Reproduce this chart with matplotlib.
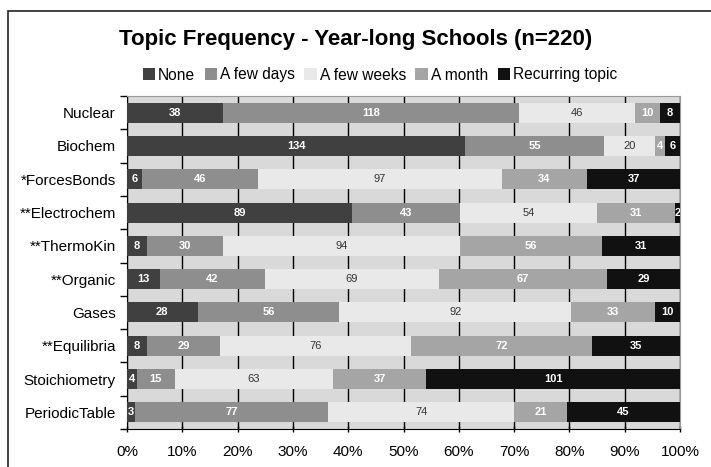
import matplotlib.pyplot as plt
from matplotlib.patches import Rectangle
import numpy as np

plt.rcParams['font.family'] = ['Liberation Sans', 'DejaVu Sans']

# Topics, listed top to bottom as they appear on the chart
topics = ['Nuclear', 'Biochem', '*ForcesBonds', '**Electrochem', '**ThermoKin',
          '**Organic', 'Gases', '**Equilibria', 'Stoichiometry', 'PeriodicTable']

# Number of schools per answer, one list per answer category
none = [38, 134, 6, 89, 8, 13, 28, 8, 4, 3]
few_days = [118, 55, 46, 43, 30, 42, 56, 29, 15, 77]
few_weeks = [46, 20, 97, 54, 94, 69, 92, 76, 63, 74]
a_month = [10, 4, 34, 31, 56, 67, 33, 72, 37, 21]
recurring = [8, 6, 37, 2, 31, 29, 10, 35, 101, 45]

series_names = ['None', 'A few days', 'A few weeks', 'A month', 'Recurring topic']
series = [none, few_days, few_weeks, a_month, recurring]
colors = ['#404040', '#8e8e8e', '#e9e9e9', '#a5a5a5', '#111111']
text_colors = ['white', 'white', '#333333', 'white', 'white']

counts = np.array(series, dtype=float)
totals = counts.sum(axis=0)
shares = counts / totals

fig = plt.figure(figsize=(7.11, 4.67), dpi=100)
ax = fig.add_axes([127 / 711, 1 - 429 / 467, 553 / 711, 333 / 467])
ax.set_facecolor('#d9d9d9')

# outer frame round the chart
fig.patches.append(Rectangle((8 / 711, -0.05), 1.0, 1 - 11 / 467 + 0.05,
                             transform=fig.transFigure, fill=False,
                             edgecolor='#222222', linewidth=1.2))

y = np.arange(len(topics))
left = np.zeros(len(topics))
for name, vals, share, col, tcol in zip(series_names, series, shares, colors, text_colors):
    ax.barh(y, share, left=left, height=0.6, color=col, label=name, zorder=3)
    for i, (v, s) in enumerate(zip(vals, share)):
        weight = 'normal' if tcol != 'white' else 'bold'
        ax.text(left[i] + s / 2, y[i], str(v), ha='center', va='center',
                fontsize=8, color=tcol, fontweight=weight, zorder=4, clip_on=True)
    left += share

ax.set_xlim(0, 1)
ax.set_ylim(len(topics) - 0.5, -0.5)
ax.set_xticks(np.arange(0, 1.01, 0.1))
ax.set_xticklabels([f'{int(round(t * 100))}%' for t in np.arange(0, 1.01, 0.1)], fontsize=11)
ax.xaxis.grid(True, color='black', linewidth=1.0, zorder=1)
ax.set_axisbelow(True)

ax.set_yticks(y)
ax.set_yticklabels(topics, fontsize=11)
ax.tick_params(axis='y', length=0, pad=8)
ax.set_yticks(np.arange(-0.5, len(topics)), minor=True)
ax.tick_params(axis='y', which='minor', length=5, width=1, direction='out')
ax.tick_params(axis='x', length=5, width=1, direction='inout', pad=9)

for side in ['top', 'right']:
    ax.spines[side].set_color('#999999')
ax.spines['left'].set_color('black')
ax.spines['bottom'].set_color('black')

fig.text(0.5, 1 - 40 / 467, 'Topic Frequency - Year-long Schools (n=220)',
         ha='center', va='center', fontsize=16, fontweight='bold')
fig.legend(loc='center', bbox_to_anchor=(380 / 711, 1 - 75 / 467), ncol=5, frameon=False,
           fontsize=11.2, handlelength=0.8, handleheight=0.8, handletextpad=0.2,
           columnspacing=0.6, borderpad=0)

fig.savefig('out.png', dpi=100)
